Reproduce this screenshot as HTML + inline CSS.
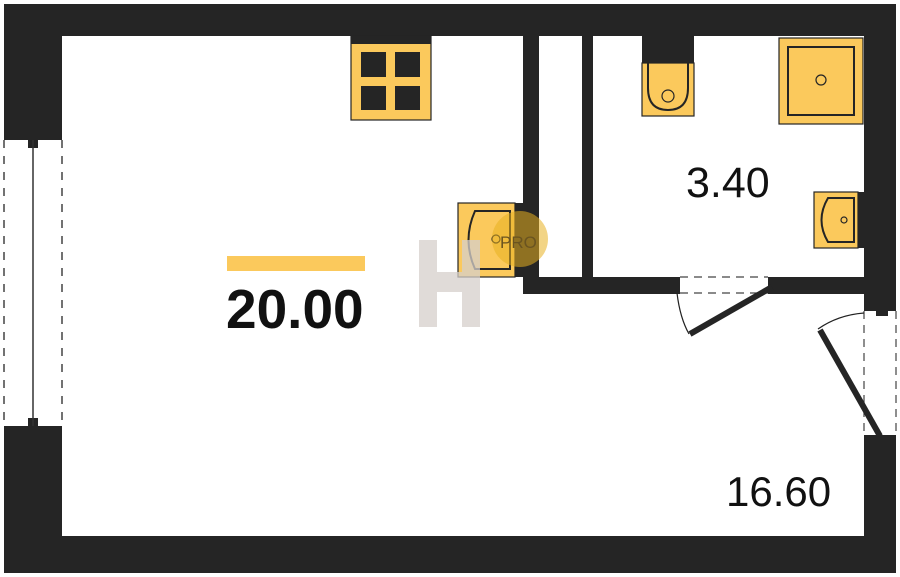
<!DOCTYPE html>
<html><head><meta charset="utf-8"><style>
body{margin:0;background:#fff}
svg{display:block}
text{font-family:"Liberation Sans",sans-serif}
</style></head><body>
<svg width="900" height="577" viewBox="0 0 900 577" xmlns="http://www.w3.org/2000/svg">
<rect width="900" height="577" fill="#fff"/>
<g fill="#252525">
<rect x="4" y="4" width="892" height="32"/>
<rect x="4" y="536" width="892" height="37"/>
<rect x="4" y="4" width="58" height="129"/>
<rect x="4" y="433" width="58" height="140"/>
<rect x="864" y="4" width="32" height="299"/>
<rect x="864" y="440" width="32" height="133"/>
<rect x="523" y="36" width="16" height="257"/>
<rect x="582" y="36" width="11" height="241"/>
<rect x="523" y="277" width="146" height="17"/>
<rect x="778" y="277" width="86" height="17"/>
<rect x="4" y="133" width="58" height="7"/>
<rect x="4" y="426" width="58" height="7"/>
<rect x="28" y="140" width="10" height="8"/>
<rect x="28" y="418" width="10" height="8"/>
<rect x="864" y="303" width="32" height="8"/>
<rect x="864" y="435" width="32" height="8"/>
<rect x="876" y="311" width="12" height="5"/>
<rect x="668" y="277" width="12" height="17"/>
<rect x="768" y="277" width="11" height="17"/>
</g>
<line x1="33" y1="140" x2="33" y2="426" stroke="#333" stroke-width="1.5"/>
<line x1="4" y1="140" x2="4" y2="426" stroke="#444" stroke-width="1.5" stroke-dasharray="8,8"/>
<line x1="62" y1="140" x2="62" y2="426" stroke="#444" stroke-width="1.5" stroke-dasharray="8,8"/>
<line x1="680" y1="277" x2="768" y2="277" stroke="#444" stroke-width="1.2" stroke-dasharray="8,6"/>
<line x1="680" y1="293" x2="768" y2="293" stroke="#444" stroke-width="1.2" stroke-dasharray="8,6"/>
<line x1="772" y1="287" x2="690" y2="334" stroke="#252525" stroke-width="6"/>
<path d="M677,293 Q680,318 689,334" fill="none" stroke="#222" stroke-width="1.2"/>
<line x1="864" y1="311" x2="864" y2="435" stroke="#444" stroke-width="1.2" stroke-dasharray="8,6"/>
<line x1="896" y1="311" x2="896" y2="435" stroke="#444" stroke-width="1.2" stroke-dasharray="8,6"/>
<line x1="880" y1="436" x2="820" y2="330" stroke="#252525" stroke-width="6"/>
<path d="M818,329 Q838,315 864,313" fill="none" stroke="#222" stroke-width="1.2"/>
<rect x="351" y="36" width="80" height="84" fill="#fbc95c" stroke="#252525" stroke-width="1.2"/>
<rect x="351" y="36" width="80" height="8" fill="#252525"/>
<rect x="361" y="52" width="25" height="25" fill="#252525"/>
<rect x="395" y="52" width="25" height="25" fill="#252525"/>
<rect x="361" y="86" width="25" height="24" fill="#252525"/>
<rect x="395" y="86" width="25" height="24" fill="#252525"/>
<rect x="458" y="203" width="57" height="74" fill="#fbc95c" stroke="#252525" stroke-width="1.2"/>
<rect x="515" y="203" width="8" height="74" fill="#252525"/>
<path d="M510,211 L475,211 Q462,240 475,269 L510,269 Z" fill="none" stroke="#252525" stroke-width="2"/>
<circle cx="496" cy="239" r="4" fill="none" stroke="#252525" stroke-width="1.2"/>
<rect x="642" y="36" width="52" height="27" fill="#252525"/>
<rect x="642" y="63" width="52" height="53" fill="#fbc95c" stroke="#252525" stroke-width="1.2"/>
<path d="M648,63 L648,88 Q648,110 668,110 Q688,110 688,88 L688,63" fill="none" stroke="#252525" stroke-width="2"/>
<circle cx="668" cy="96" r="6" fill="none" stroke="#252525" stroke-width="1.2"/>
<rect x="779" y="38" width="84" height="86" fill="#fbc95c" stroke="#252525" stroke-width="1.2"/>
<rect x="788" y="47" width="66" height="68" fill="none" stroke="#252525" stroke-width="2"/>
<circle cx="821" cy="80" r="5" fill="none" stroke="#252525" stroke-width="1.2"/>
<rect x="814" y="192" width="44" height="56" fill="#fbc95c" stroke="#252525" stroke-width="1.2"/>
<rect x="858" y="192" width="6" height="56" fill="#252525"/>
<path d="M854,198 L828,198 Q815,220 828,242 L854,242 Z" fill="none" stroke="#252525" stroke-width="2"/>
<circle cx="844" cy="220" r="3" fill="none" stroke="#252525" stroke-width="1.2"/>
<circle cx="520" cy="239" r="28" fill="#e8b020" opacity="0.55"/>
<text x="500" y="248" font-size="17" fill="#6a5420">PRO</text>
<g fill="#d6d0cb" opacity="0.75">
<rect x="419" y="240" width="18" height="87"/>
<rect x="462" y="240" width="18" height="87"/>
<polygon points="437,272 462,272 462,292 437,292"/>
</g>
<rect x="227" y="256" width="138" height="15" fill="#fbc95c"/>
<text x="226" y="328" font-size="55" font-weight="bold" fill="#111">20.00</text>
<text x="686" y="197" font-size="43" fill="#111">3.40</text>
<text x="726" y="506" font-size="42" fill="#111">16.60</text>
</svg>
</body></html>
